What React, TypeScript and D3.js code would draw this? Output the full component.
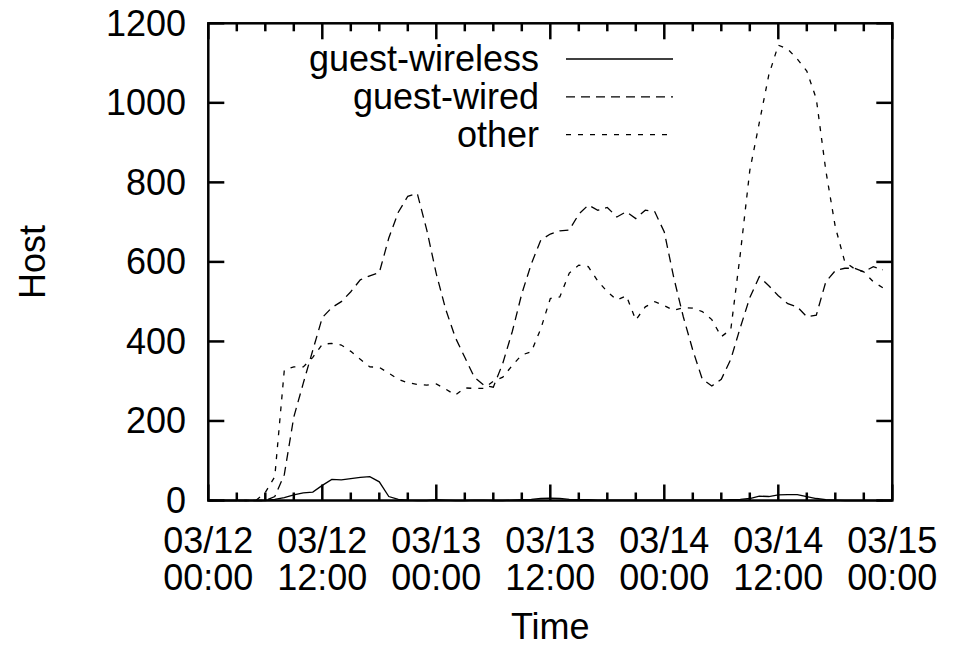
import React from "react";
import * as d3 from "d3";

// hours since 03/12 00:00, one sample per hour
const hours: number[] = Array.from({ length: 72 }, (_, i) => i);

const guestWireless: number[] = [
  0, 0, 0, 0, 0, 0, 0, 3, 7, 14, 19, 21, 38, 53, 52, 55, 58, 60, 47, 10,
  3, 1, 0, 0, 2, 1, 0, 0, 1, 1, 0, 0, 1, 2, 3, 5, 6, 5, 3, 2,
  2, 1, 1, 1, 1, 1, 1, 1, 1, 1, 1, 1, 1, 1, 1, 2, 3, 5, 11, 10,
  14, 15, 15, 10, 5, 2, 1, 0, 0, 0, 0, 0,
];

const guestWired: number[] = [
  0, 0, 0, 0, 0, 0, 0, 10, 65, 210, 295, 378, 460, 485, 500, 525, 555, 565, 573, 660,
  725, 765, 772, 680, 570, 480, 410, 360, 310, 290, 285, 345, 425, 520, 595, 655, 670, 678, 680, 720,
  743, 730, 737, 713, 726, 709, 730, 726, 675, 560, 462, 378, 305, 288, 305, 355, 435, 510, 563, 540,
  515, 495, 487, 462, 466, 550, 578, 584, 584, 575, 588, 580,
];

const other: number[] = [
  0, 0, 0, 0, 0, 0, 20, 60, 328, 336, 336, 360, 393, 395, 391, 375, 355, 336, 335, 320,
  305, 296, 292, 290, 293, 280, 265, 283, 282, 282, 300, 310, 340, 366, 374, 432, 508, 512, 572, 592,
  588, 552, 525, 504, 515, 454, 487, 500, 490, 478, 485, 484, 475, 455, 412, 430, 620, 830, 950, 1070,
  1145, 1135, 1110, 1080, 1010, 830, 688, 600, 583, 575, 550, 535,
];

const yTicks: number[] = [0, 200, 400, 600, 800, 1000, 1200];
const xMajorTicks: number[] = [0, 12, 24, 36, 48, 60, 72];
const xTickDates: string[] = ["03/12", "03/12", "03/13", "03/13", "03/14", "03/14", "03/15"];
const xTickTimes: string[] = ["00:00", "12:00", "00:00", "12:00", "00:00", "12:00", "00:00"];
const xMinorTicks: number[] = d3.range(0, 73, 3).filter((h) => h % 12 !== 0);

const seriesNames: string[] = ["guest-wireless", "guest-wired", "other"];

export default function App() {
  const W = 959;
  const H = 646;
  const left = 208.3;
  const right = 892.3;
  const top = 23.3;
  const bottom = 500.5;
  const font = "'Liberation Sans', Arial, Helvetica, sans-serif";
  const fs = 36;

  const x = d3.scaleLinear().domain([0, 72]).range([left, right]);
  const y = d3.scaleLinear().domain([0, 1200]).range([bottom, top]);

  const line = d3
    .line<number>()
    .x((_, i) => x(hours[i]))
    .y((d) => y(d));

  const series = [
    { name: seriesNames[0], data: guestWireless, dash: "none" },
    { name: seriesNames[1], data: guestWired, dash: "9,6" },
    { name: seriesNames[2], data: other, dash: "5,7" },
  ];

  const legendTextX = 539;
  const legendLineX1 = 566;
  const legendLineX2 = 673;
  const legendY0 = 59;
  const legendStep = 37.8;

  return (
    <svg
      width={W}
      height={H}
      style={{ position: "absolute", left: 0, top: 0, background: "#fff" }}
      fontFamily={font}
    >
      <rect x={0} y={0} width={W} height={H} fill="#fff" />
      {series.map((s) => (
        <path
          key={s.name}
          d={line(s.data) || ""}
          fill="none"
          stroke="#000"
          strokeWidth={1.3}
          strokeDasharray={s.dash}
        />
      ))}

      {yTicks.map((t) => (
        <g key={"y" + t}>
          <line x1={left} x2={left + 16} y1={y(t)} y2={y(t)} stroke="#000" strokeWidth={2.5} />
          <line x1={right} x2={right - 16} y1={y(t)} y2={y(t)} stroke="#000" strokeWidth={2.5} />
          <text x={186} y={y(t) + 12.5} fontSize={fs} textAnchor="end" fill="#000">
            {t}
          </text>
        </g>
      ))}

      {xMajorTicks.map((t, i) => (
        <g key={"x" + t}>
          <line x1={x(t)} x2={x(t)} y1={bottom} y2={bottom - 16} stroke="#000" strokeWidth={2.5} />
          <line x1={x(t)} x2={x(t)} y1={top} y2={top + 16} stroke="#000" strokeWidth={2.5} />
          <text x={x(t)} y={553} fontSize={fs} textAnchor="middle" fill="#000">
            {xTickDates[i]}
          </text>
          <text x={x(t)} y={590} fontSize={fs} textAnchor="middle" fill="#000">
            {xTickTimes[i]}
          </text>
        </g>
      ))}
      {xMinorTicks.map((t) => (
        <g key={"m" + t}>
          <line x1={x(t)} x2={x(t)} y1={bottom} y2={bottom - 8} stroke="#000" strokeWidth={2.5} />
          <line x1={x(t)} x2={x(t)} y1={top} y2={top + 8} stroke="#000" strokeWidth={2.5} />
        </g>
      ))}

      <rect
        x={left}
        y={top}
        width={right - left}
        height={bottom - top}
        fill="none"
        stroke="#000"
        strokeWidth={2.5}
      />

      <text x={(left + right) / 2} y={639} fontSize={fs} textAnchor="middle" fill="#000">
        Time
      </text>
      <text
        transform={`translate(45, ${(top + bottom) / 2}) rotate(-90)`}
        fontSize={fs}
        textAnchor="middle"
        fill="#000"
      >
        Host
      </text>

      {series.map((s, i) => {
        const ly = legendY0 + i * legendStep;
        return (
          <g key={"l" + s.name}>
            <text x={legendTextX} y={ly + 12} fontSize={fs} textAnchor="end" fill="#000">
              {s.name}
            </text>
            <line
              x1={legendLineX1}
              x2={legendLineX2}
              y1={ly}
              y2={ly}
              stroke="#000"
              strokeWidth={1.3}
              strokeDasharray={s.dash}
            />
          </g>
        );
      })}
    </svg>
  );
}
